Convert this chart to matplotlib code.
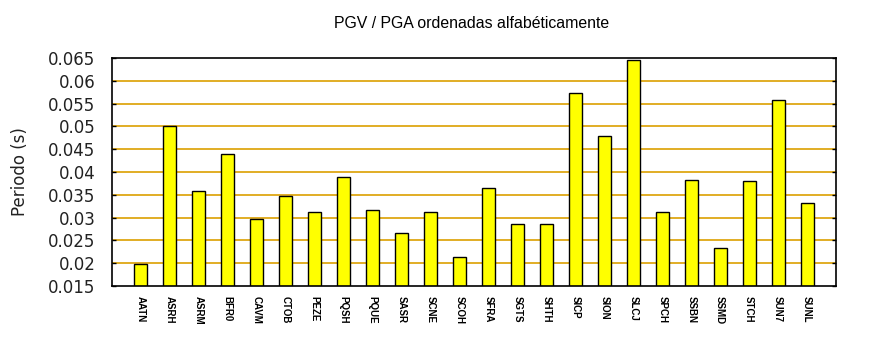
import numpy as np
import matplotlib
matplotlib.use("Agg")
import matplotlib.pyplot as plt

# Estaciones (orden alfabetico) y cociente PGV/PGA
estaciones = ['AATN', 'ASRH', 'ASRM', 'BFR0', 'CAVM', 'CTOB', 'PEZE', 'PQSH',
              'PQUE', 'SASR', 'SCNE', 'SCOH', 'SFRA', 'SGTS', 'SHTH', 'SICP',
              'SION', 'SLCJ', 'SPCH', 'SSBN', 'SSMD', 'STCH', 'SUN7', 'SUNL']
periodo = [0.0198, 0.0500, 0.0358, 0.0439, 0.0298, 0.0347, 0.0312, 0.0388,
           0.0316, 0.0266, 0.0312, 0.0213, 0.0366, 0.0285, 0.0287, 0.0573,
           0.0478, 0.0645, 0.0312, 0.0382, 0.0233, 0.0380, 0.0557, 0.0331]
yticks = [0.015, 0.02, 0.025, 0.03, 0.035, 0.04, 0.045, 0.05, 0.055, 0.06, 0.065]
ytick_labels = ['0.015', '0.02', '0.025', '0.03', '0.035', '0.04', '0.045',
                '0.05', '0.055', '0.06', '0.065']

fig = plt.figure(figsize=(8.7, 3.5), dpi=100)
ax = fig.add_axes([112 / 870, 1 - 286 / 350, (836 - 112) / 870, (286 - 58) / 350])

x = np.arange(len(estaciones))
ax.bar(x, periodo, width=0.45, bottom=0, color='#ffff00', edgecolor='black',
       linewidth=1.0, zorder=3)

ax.set_xlim(-1, 24)
ax.set_ylim(0.015, 0.065)
ax.set_yticks(yticks)
ax.set_yticklabels(ytick_labels, fontsize=12, color='#222222')
ax.set_xticks(x)
ax.set_xticklabels(estaciones, rotation=-90, fontsize=7,
                   family='Liberation Sans', fontweight='bold')

# rejilla horizontal
for y in yticks[1:-1]:
    ax.axhline(y, color='#dca000', linewidth=1.2, zorder=1)

ax.tick_params(axis='y', direction='in', length=3, width=1, right=True,
               left=True, pad=12)
ax.tick_params(axis='x', length=0, pad=7)
for s in ax.spines.values():
    s.set_linewidth(1.2)
    s.set_zorder(4)

ax.set_ylabel('Periodo (s)', fontsize=12, color='#222222', labelpad=14)
fig.text(472 / 870, 1 - 24 / 350, 'PGV / PGA ordenadas alfabéticamente',
         ha='center', va='center', fontsize=11.4, family='Liberation Sans')

fig.savefig('out.png', dpi=100)
